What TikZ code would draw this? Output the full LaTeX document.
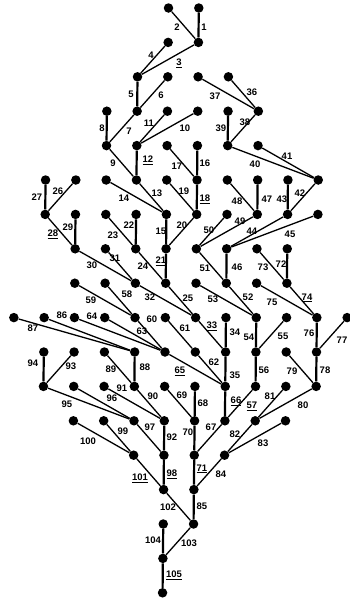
\documentclass[tikz,border=0pt]{standalone}
\usepackage{fontspec}
\setmainfont{Liberation Sans}
\begin{document}
\begin{tikzpicture}[x=1pt,y=-1pt,
  dot/.style={circle,fill=black,inner sep=0pt,minimum size=9.5pt},
  vedge/.style={line width=2.2pt},
  dedge/.style={line width=1.3pt},
  lab/.style={font=\fontsize{9.5}{10}\selectfont\bfseries,inner sep=0pt}]
\useasboundingbox (0,0) rectangle (350,598);
% nodes on a slightly skewed lattice
\foreach \i/\j in {5/0,6/0, 5/1,6/1, 4/2,5/2,6/2,7/2,
  3/3,4/3,5/3,6/3,7/3,8/3, 3/4,4/4,5/4,6/4,7/4,8/4,
  1/5,2/5,3/5,4/5,5/5,6/5,7/5,8/5,9/5,10/5,
  1/6,2/6,3/6,4/6,5/6,6/6,7/6,8/6,9/6,10/6,
  2/7,3/7,4/7,5/7,6/7,7/7,8/7,9/7,
  2/8,3/8,4/8,5/8,6/8,7/8,8/8,9/8,
  0/9,1/9,2/9,3/9,4/9,5/9,6/9,7/9,8/9,9/9,10/9,11/9,
  1/10,2/10,3/10,4/10,5/10,6/10,7/10,8/10,9/10,10/10,
  1/11,2/11,3/11,4/11,5/11,6/11,7/11,8/11,9/11,10/11,
  2/12,3/12,4/12,5/12,6/12,7/12,8/12,9/12,
  4/13,5/13,6/13,7/13, 5/14,6/14, 5/15,6/15, 5/16, 5/17}
  \node[dot] (n-\i-\j) at ({17+30.3*\i-0.35*\j},{8+34.4*\j}) {};
% vertical connectors
\foreach \i/\a/\b in {6/0/1,4/2/3,3/3/4,4/4/5,5/6/7,6/4/5,6/5/6,5/7/8,4/6/7,
  1/5/6,2/6/7,7/9/10,7/10/11,7/3/4,9/5/6,7/7/8,8/5/6,8/9/10,8/10/11,
  7/11/12,6/11/12,6/12/13,6/13/14,9/7/8,10/9/10,10/10/11,6/14/15,
  4/10/11,5/12/13,1/10/11,5/13/14,5/15/16,5/16/17}
  \draw[vedge] (n-\i-\a) -- (n-\i-\b);
% slanted connectors
\foreach \a/\b/\c/\d in {5/0/6/1,6/1/4/2,5/1/4/2,5/2/4/3,4/3/3/4,3/4/4/5,
  6/3/4/4,5/3/4/4,4/5/5/6,3/5/5/6,5/4/6/5,5/5/6/6,6/6/5/7,3/6/4/7,4/7/5/8,
  5/8/6/9,2/5/1/6,1/6/2/7,2/7/4/8,3/7/4/8,4/8/6/9,6/9/7/10,7/2/8/3,6/2/8/3,
  8/3/7/4,7/4/10/5,8/4/10/5,10/5/9/6,9/6/7/7,10/6/7/7,7/5/8/6,8/6/6/7,
  7/6/6/7,6/7/7/8,7/8/8/9,6/8/8/9,9/9/8/10,8/11/7/12,3/8/4/9,2/8/4/9,
  4/9/5/10,5/9/6/10,6/10/7/11,3/9/5/10,2/9/5/10,5/10/7/11,7/12/6/13,
  5/11/6/12,8/7/9/8,9/8/10/9,8/8/10/9,11/9/10/10,9/10/10/11,10/11/8/12,
  9/11/8/12,8/12/7/13,9/12/7/13,7/13/6/14,1/9/4/10,0/9/4/10,3/10/4/11,
  4/11/5/12,3/11/5/12,2/10/1/11,1/11/4/12,2/11/4/12,4/12/5/13,3/12/4/13,
  2/12/4/13,4/13/5/14,5/14/6/15,6/15/5/16}
  \draw[dedge] (n-\a-\b) -- (n-\c-\d);
% labels
\foreach \n/\x/\y in {1/204/27,2/177/27,4/151/55,5/131/94,6/161/95,7/129/131,
  8/102/128,9/113/163,10/185/128,11/149/123,13/157/193,14/124/198,15/161/231,
  16/205/163,17/177/166,19/184/191,20/182/225,22/129/225,23/113/235,24/143/266,
  25/188/298,26/58/191,27/37/197,29/68/227,30/92/265,31/115/258,32/150/297,
  34/235/332,35/235/375,36/252/92,37/215/96,38/245/122,39/221/128,40/255/164,
  41/287/156,42/300/193,43/282/199,44/252/231,45/290/234,46/237/267,47/267/199,
  48/237/201,49/240/221,50/209/230,51/205/268,52/248/297,53/213/299,54/249/337,
  55/283/336,56/264/370,58/127/294,59/91/300,60/152/319,61/185/328,62/214/362,
  63/142/331,64/92/316,67/211/427,68/203/403,69/182/395,70/188/432,72/281/264,
  73/263/267,75/272/302,76/309/333,77/342/340,78/325/370,79/292/371,80/303/405,
  81/270/396,82/235/434,83/263/443,84/221/474,85/202/506,86/62/315,87/33/328,
  88/145/367,89/111/369,90/153/396,91/122/388,92/172/437,93/71/366,94/33/363,
  95/67/404,96/112/398,97/150/427,99/123/431,100/88/441,102/168/507,
  103/189/543,104/153/540}
  \node[lab] (l-\n) at (\x,\y) {\n};
\foreach \n/\x/\y in {3/179/63,12/148/160,18/205/199,21/161/261,28/53/234,
  33/212/326,57/252/406,65/180/371,66/236/401,71/202/469,74/307/298,
  98/172/474,101/140/478,105/174/575}
  \node[lab] (l-\n) at (\x,\y) {\underline{\n}};
\end{tikzpicture}
\end{document}
